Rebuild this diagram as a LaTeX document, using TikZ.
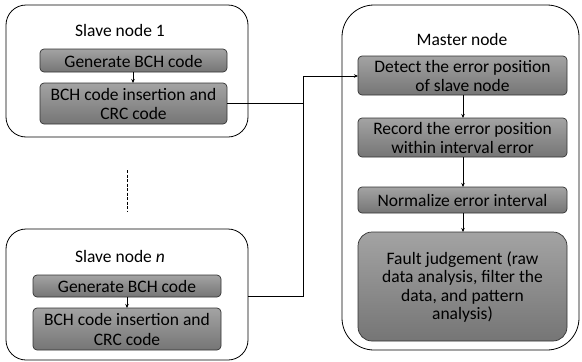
\documentclass[tikz,border=0pt]{standalone}
\usepackage{fontspec}
\setmainfont{Carlito}
\usetikzlibrary{arrows.meta}
\begin{document}
\begin{tikzpicture}[x=1pt,y=-1pt,
  outer/.style={draw=black, line width=0.8pt, rounded corners=#1},
  stepbox/.style={draw=black!80, line width=0.7pt, rounded corners=4pt, top color=black!36, bottom color=black!54, align=center, inner sep=0pt},
  lbl/.style={font=\fontsize{17.5}{20}\selectfont, inner sep=0pt},
  conn/.style={draw=black, line width=0.6pt},
  arr/.style={conn, -{Stealth[length=4pt,width=3.5pt]}},
  txt/.style={font=\fontsize{17.5}{19.5}\selectfont, inner sep=0pt}
]
\useasboundingbox (0,0) rectangle (582,362);
% outer containers
\draw[outer=20pt] (6,5) rectangle (248,137);
\draw[outer=20pt] (6,229) rectangle (248,360);
\draw[outer=32pt] (342,5) rectangle (579,350);
% labels
\node[lbl] (s1) at (120,30) {Slave node 1};
\node[lbl] (sn) at (120,256) {Slave node \textit{n}};
\node[lbl] (mn) at (462,39) {Master node};
% slave 1 boxes
\path[stepbox] (40,49) rectangle (227,72);
\node[txt] (g1) at (133.5,61) {Generate BCH code};
\path[stepbox] (40,83) rectangle (227,124);
\node[txt, align=center] (i1) at (133.5,104) {BCH code insertion and\\CRC code};
% slave n boxes
\path[stepbox] (33,275) rectangle (221,297);
\node[txt] (gn) at (127,286.5) {Generate BCH code};
\path[stepbox] (33,308) rectangle (221,350);
\node[txt, align=center] (in) at (127,329.5) {BCH code insertion and\\CRC code};
% master boxes
\path[stepbox] (358,56) rectangle (567,95);
\node[txt, align=center] (d) at (462.5,76) {Detect the error position\\of slave node};
\path[stepbox] (358,118) rectangle (567,157);
\node[txt, align=center] (r) at (462.5,138) {Record the error position\\within interval error};
\path[stepbox] (358,187) rectangle (567,213);
\node[txt] (nz) at (462.5,200.5) {Normalize error interval};
\path[stepbox, rounded corners=14pt] (358,232) rectangle (567,341);
\node[txt, align=center, font=\fontsize{17.5}{18.5}\selectfont] (f) at (462.5,287) {Fault judgement (raw\\data analysis, filter the\\data, and pattern\\analysis)};
% coordinates
\coordinate (g1b) at (133,72);
\coordinate (i1t) at (133,83);
\coordinate (gnb) at (127,297);
\coordinate (int) at (127,308);
\coordinate (i1r) at (227,103);
\coordinate (snr) at (248,296);
\coordinate (j1) at (303,103);
\coordinate (j2) at (303,296);
\coordinate (jt) at (303,76);
\coordinate (dl) at (358,76);
\coordinate (db) at (463,95);
\coordinate (rt) at (463,118);
\coordinate (rb) at (463,157);
\coordinate (nt) at (463,187);
\coordinate (nb) at (463,213);
\coordinate (ft) at (463,232);
\coordinate (da) at (127,170);
\coordinate (db2) at (127,212);
% arrows
\draw[arr] (g1b) -- (i1t);
\draw[arr] (gnb) -- (int);
\draw[arr] (db) -- (rt);
\draw[arr] (rb) -- (nt);
\draw[arr] (nb) -- (ft);
\draw[conn] (i1r) -- (j1);
\draw[conn] (snr) -- (j2) -- (jt);
\draw[arr] (jt) -- (dl);
\draw[conn, dash pattern=on 3pt off 1.5pt] (da) -- (db2);
\end{tikzpicture}
\end{document}
